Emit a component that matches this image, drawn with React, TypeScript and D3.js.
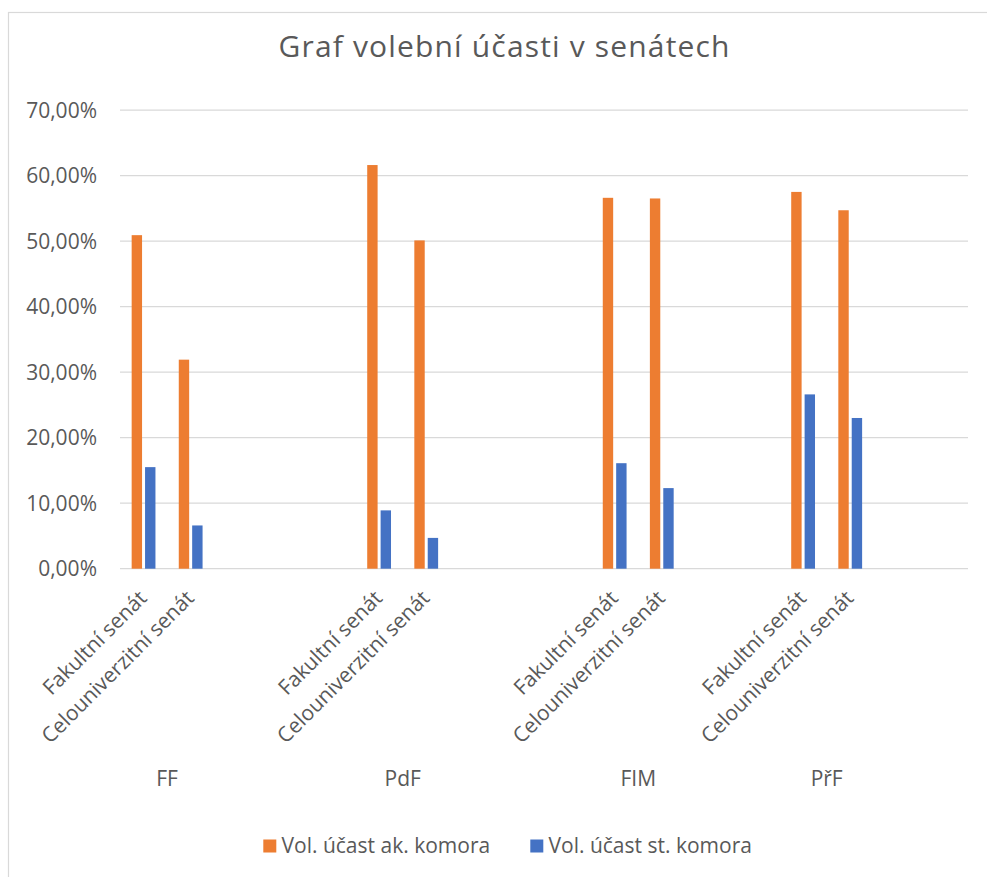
import React from "react";
import * as d3 from "d3";

const title = "Graf volební účasti v senátech";
const seriesNames = ["Vol. účast ak. komora", "Vol. účast st. komora"];
const seriesColors = ["#ED7D31", "#4472C4"];

// Excel category rows (two-level), including blank rows of the source sheet
const groupColumn = ["FF", "", "", "", "", "PdF", "", "", "", "", "FIM", "", "", "", "PřF", "", "", ""];
const senateColumn = [
  "Fakultní senát", "Celouniverzitní senát", "", "", "",
  "Fakultní senát", "Celouniverzitní senát", "", "", "",
  "Fakultní senát", "Celouniverzitní senát", "", "",
  "Fakultní senát", "Celouniverzitní senát", "", "",
];
// values in %, null for blank rows
const akKomora = [50.9, 31.9, null, null, null, 61.6, 50.1, null, null, null, 56.6, 56.5, null, null, 57.5, 54.7, null, null];
const stKomora = [15.5, 6.6, null, null, null, 8.9, 4.7, null, null, null, 16.1, 12.3, null, null, 26.6, 23.0, null, null];
const yTicks = [0, 10, 20, 30, 40, 50, 60, 70];

const W = 987;
const H = 877;
const FONT = "'Open Sans', sans-serif";
const TEXT = "#595959";
const GRID = "#d9d9d9";

export default function App() {
  const left = 120, right = 968, top = 110, bottom = 568.7;
  const slots = d3.range(senateColumn.length);
  const x0 = d3.scaleBand<number>().domain(slots).range([left, right]).padding(0);
  const x1 = d3
    .scaleBand<number>()
    .domain([0, 1])
    .range([0, x0.bandwidth()])
    .paddingInner(0.224)
    .paddingOuter(0.87);
  const y = d3.scaleLinear().domain([0, 70]).range([bottom, top]);
  const fmt = (v: number) => d3.format(".2f")(v).replace(".", ",") + "%";
  const series = [akKomora, stKomora];

  // group label positions: centre between the non-blank sub-categories of each group
  const groups: { name: string; center: number }[] = [];
  groupColumn.forEach((g, i) => {
    if (g) {
      const members: number[] = [];
      for (let j = i; j < groupColumn.length && (j === i || !groupColumn[j]); j++) {
        if (senateColumn[j]) members.push(j);
      }
      const c = d3.mean(members, (m) => (x0(m) as number) + x0.bandwidth() / 2) as number;
      groups.push({ name: g, center: c });
    }
  });

  return (
    <svg
      width={W}
      height={H}
      style={{ position: "absolute", left: 0, top: 0, background: "#fff" }}
      fontFamily={FONT}
    >
      <rect x={0} y={0} width={W} height={H} fill="#fff" />
      <rect x={8.5} y={12.5} width={W + 20} height={H + 20} fill="none" stroke={GRID} strokeWidth={1.2} />
      <text x={504} y={57} textAnchor="middle" fontSize={30} fill={TEXT} textLength={451} lengthAdjust="spacing">
        {title}
      </text>
      {yTicks.map((t) => (
        <g key={t}>
          <line x1={left} x2={right} y1={y(t)} y2={y(t)} stroke={GRID} strokeWidth={1.25} />
          <text x={97} y={y(t)} dy="0.36em" textAnchor="end" fontSize={21} fill={TEXT}>
            {fmt(t)}
          </text>
        </g>
      ))}
      {series.map((vals, si) =>
        vals.map((v, i) =>
          v == null ? null : (
            <rect
              key={si + "-" + i}
              x={(x0(i) as number) + (x1(si) as number)}
              y={y(v)}
              width={x1.bandwidth()}
              height={y(0) - y(v)}
              fill={seriesColors[si]}
            />
          )
        )
      )}
      {senateColumn.map((s, i) =>
        s ? (
          <text
            key={"l" + i}
            transform={`translate(${(x0(i) as number) + x0.bandwidth() / 2 - 6},${589}) rotate(-45)`}
            textAnchor="end"
            dy="0.71em"
            fontSize={21}
            fill={TEXT}
          >
            {s}
          </text>
        ) : null
      )}
      {groups.map((g) => (
        <text key={g.name} x={g.center} y={786} textAnchor="middle" fontSize={21} fill={TEXT}>
          {g.name}
        </text>
      ))}
      <g>
        <rect x={263.3} y={839.5} width={13} height={13} fill={seriesColors[0]} />
        <text x={281.5} y={852.7} fontSize={21} fill={TEXT}>
          {seriesNames[0]}
        </text>
        <rect x={530.3} y={839.5} width={13} height={13} fill={seriesColors[1]} />
        <text x={548.5} y={852.7} fontSize={21} fill={TEXT}>
          {seriesNames[1]}
        </text>
      </g>
    </svg>
  );
}
